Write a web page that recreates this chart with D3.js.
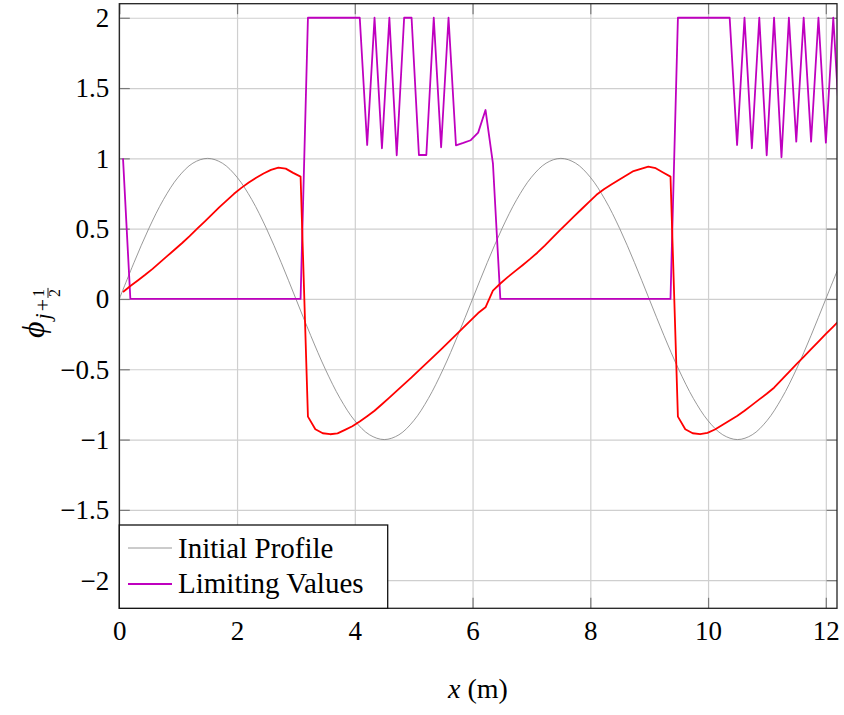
<!DOCTYPE html>
<html><head><meta charset="utf-8">
<script src="https://cdn.jsdelivr.net/npm/d3@7"></script>
<style>body{margin:0;background:#fff} svg{display:block} text{font-family:"Liberation Serif","DejaVu Serif",serif;fill:#000}</style>
</head><body><svg id="c" width="844" height="715"></svg>
<script>
// cell-interface positions (m)
const xGrid = [0.063,0.188,0.314,0.440,0.565,0.691,0.817,0.942,1.068,1.194,1.319,1.445,1.571,1.696,1.822,1.948,2.073,2.199,2.325,2.450,2.576,2.702,2.827,2.953,3.079,
3.204,3.330,3.456,3.581,3.707,3.833,3.958,4.084,4.210,4.335,4.461,4.587,4.712,4.838,4.964,5.089,5.215,5.341,5.466,5.592,5.718,5.843,5.969,6.095,6.220,
6.346,6.472,6.597,6.723,6.849,6.974,7.100,7.226,7.351,7.477,7.603,7.728,7.854,7.980,8.105,8.231,8.357,8.482,8.608,8.734,8.859,8.985,9.111,9.236,9.362,
9.488,9.613,9.739,9.865,9.990,10.116,10.242,10.367,10.493,10.619,10.744,10.870,10.996,11.121,11.247,11.373,11.498,11.624,11.750,11.875,12.001,12.127,12.252];
// Limiting values (purple)
const limitingValues = [1,
0,0,0,0,0,0,0,0,0,0,0,0,0,0,0,0,0,0,0,0,0,0,0,0,
2,2,2,2,2,2,2,2,
1.095,2,1.072,2,1.022,2,2,1.024,1.024,2,1.079,2,1.093,1.11,1.129,1.183,1.344,0.965,
0,0,0,0,0,0,0,0,0,0,0,0,0,0,0,0,0,0,0,0,0,0,0,0,
2,2,2,2,2,2,2,2,
1.095,2,1.072,2,1.022,2,1.008,2,1.119,2,1.119,2,1.112,2,1.1];
// Solution (red, not in legend)
const solutionValues = [0.05,0.092,0.132,0.172,0.214,0.26,0.306,0.352,0.398,0.447,0.498,0.549,0.600,0.651,0.70,0.748,0.79,0.828,0.862,0.892,0.918,0.934,0.927,0.897,0.870,
-0.837,-0.927,-0.955,-0.962,-0.956,-0.931,-0.905,-0.872,-0.834,-0.795,-0.749,-0.702,-0.654,-0.606,-0.558,-0.508,-0.458,-0.408,-0.358,-0.307,-0.255,-0.204,-0.152,-0.10,-0.059,
0.059,0.11,0.155,0.198,0.24,0.283,0.329,0.38,0.433,0.486,0.538,0.589,0.640,0.69,0.741,0.781,0.814,0.846,0.878,0.91,0.926,0.941,0.93,0.90,0.87,
-0.837,-0.927,-0.955,-0.962,-0.952,-0.928,-0.896,-0.864,-0.832,-0.795,-0.755,-0.714,-0.674,-0.631,-0.576,-0.521,-0.466,-0.411,-0.357,-0.303,-0.249,-0.196,-0.142];
// Initial profile (gray)
const profileX = [0,0.25,0.5,0.75,1,1.25,1.5,1.75,2,2.25,2.5,2.75,3,3.25,3.5,3.75,4,4.25,4.5,4.75,5,5.25,5.5,5.75,6,
6.25,6.5,6.75,7,7.25,7.5,7.75,8,8.25,8.5,8.75,9,9.25,9.5,9.75,10,10.25,10.5,10.75,11,11.25,11.5,11.75,12,12.25];
const profileValues = [0,0.259,0.5,0.707,0.866,0.966,1,0.966,0.866,0.707,0.5,0.259,0,-0.259,-0.5,-0.707,-0.866,-0.966,-1,-0.966,-0.866,-0.707,-0.5,-0.259,0,
0.259,0.5,0.707,0.866,0.966,1,0.966,0.866,0.707,0.5,0.259,0,-0.259,-0.5,-0.707,-0.866,-0.966,-1,-0.966,-0.866,-0.707,-0.5,-0.259,0,0.259];
const xTicks = [0,2,4,6,8,10,12];
const yTicks = [-2,-1.5,-1,-0.5,0,0.5,1,1.5,2];
const legendLabels = ["Initial Profile","Limiting Values"];
const colors = {profile:"#7f7f7f", limiting:"#bf00bf", solution:"#ff0000"};

const svg = d3.select("#c");
const L=119.3,R=837,T=3.7,B=608.3;
const x = d3.scaleLinear().domain([0,12.19]).range([L,R]);
const y = d3.scaleLinear().domain([-2.2,2.1]).range([B,T]);
const fmt = d => (d<0 ? "\u2212"+Math.abs(d) : String(d));

// grid
svg.append("g").attr("transform",`translate(0,${B})`)
  .call(d3.axisBottom(x).tickValues(xTicks).tickSize(-(B-T)).tickFormat(""))
  .call(g=>{g.select(".domain").remove(); g.selectAll("line").attr("stroke","#cfcfcf").attr("stroke-width",1.2);});
svg.append("g").attr("transform",`translate(${L},0)`)
  .call(d3.axisLeft(y).tickValues(yTicks).tickSize(-(R-L)).tickFormat(""))
  .call(g=>{g.select(".domain").remove(); g.selectAll("line").attr("stroke","#cfcfcf").attr("stroke-width",1.2);});

// inner tick marks on all four sides
const tk = 10.5;
function ticks(axis, tr){
  svg.append("g").attr("transform",tr).call(axis)
   .call(g=>{g.select(".domain").remove(); g.selectAll("text").remove(); g.selectAll("line").attr("stroke","#7a7a7a").attr("stroke-width",1.2);});
}
ticks(d3.axisBottom(x).tickValues(xTicks).tickSize(-tk), `translate(0,${B})`);
ticks(d3.axisTop(x).tickValues(xTicks).tickSize(-tk), `translate(0,${T})`);
ticks(d3.axisLeft(y).tickValues(yTicks).tickSize(-tk), `translate(${L},0)`);
ticks(d3.axisRight(y).tickValues(yTicks).tickSize(-tk), `translate(${R},0)`);

// tick labels
svg.append("g").attr("transform",`translate(0,${B})`)
  .call(d3.axisBottom(x).tickValues(xTicks).tickSize(0).tickPadding(0).tickFormat(fmt))
  .call(g=>{g.select(".domain").remove(); g.selectAll("text").attr("font-size",27).attr("font-family","Liberation Serif").attr("dy",null).attr("y",31.5).attr("fill","#000");});
svg.append("g").attr("transform",`translate(${L},0)`)
  .call(d3.axisLeft(y).tickValues(yTicks).tickSize(0).tickPadding(0).tickFormat(fmt))
  .call(g=>{g.select(".domain").remove(); g.selectAll("text").attr("font-size",27).attr("font-family","Liberation Serif").attr("x",-10).attr("dy","0.33em").attr("fill","#000");});

// clip
svg.append("clipPath").attr("id","clip").append("rect").attr("x",L).attr("y",T).attr("width",R-L).attr("height",B-T);
const plot = svg.append("g").attr("clip-path","url(#clip)");

const lineP = d3.line().x((d,i)=>x(profileX[i])).y(d=>y(d)).curve(d3.curveCatmullRom);
const lineG = d3.line().x((d,i)=>x(xGrid[i])).y(d=>y(d));
plot.append("path").datum(profileValues).attr("d",lineP).attr("fill","none").attr("stroke",colors.profile).attr("stroke-width",0.8);
plot.append("path").datum(limitingValues).attr("d",lineG).attr("fill","none").attr("stroke",colors.limiting).attr("stroke-width",1.8).attr("stroke-linejoin","round");
plot.append("path").datum(solutionValues).attr("d",lineG).attr("fill","none").attr("stroke",colors.solution).attr("stroke-width",1.8).attr("stroke-linejoin","round");

// frame
svg.append("rect").attr("x",L).attr("y",T).attr("width",R-L).attr("height",B-T).attr("fill","none").attr("stroke","#222").attr("stroke-width",1.3);

// legend
const lg = svg.append("g");
lg.append("rect").attr("x",L).attr("y",525).attr("width",387.7-L).attr("height",B-525).attr("fill","#fff").attr("stroke","#111").attr("stroke-width",1.3);
const legCols=[colors.profile, colors.limiting], legW=[0.8,1.8], legY=[548,584], legBase=[557.5,592.5];
legendLabels.forEach((lab,i)=>{
  lg.append("line").attr("x1",128).attr("x2",172).attr("y1",legY[i]).attr("y2",legY[i]).attr("stroke",legCols[i]).attr("stroke-width",legW[i]);
  lg.append("text").attr("x",178).attr("y",legBase[i]).attr("font-size",29).text(lab);
});

// axis labels
const xl = svg.append("text").attr("x",478).attr("y",698).attr("text-anchor","middle").attr("font-size",28);
xl.append("tspan").attr("font-style","italic").text("x");
xl.append("tspan").text(" (m)");

const yl = svg.append("g").attr("transform","translate(44,0) rotate(-90)");
const yt = yl.append("text").attr("x",-338).attr("y",0).attr("font-size",32);
yt.append("tspan").attr("font-style","italic").text("\u03d5");
yt.append("tspan").attr("font-size",22).attr("dx",2).attr("dy",6).attr("font-style","italic").text("j");
yt.append("tspan").attr("font-size",22).attr("dx",2).text("+");
const w = yt.node().getComputedTextLength();
const fx = -338 + w + 10;
yl.append("text").attr("x",fx).attr("y",0).attr("font-size",16).attr("text-anchor","middle").text("1");
yl.append("line").attr("x1",fx-5).attr("x2",fx+5).attr("y1",4).attr("y2",4).attr("stroke","#000").attr("stroke-width",0.9);
yl.append("text").attr("x",fx).attr("y",16).attr("font-size",16).attr("text-anchor","middle").text("2");
</script></body></html>
